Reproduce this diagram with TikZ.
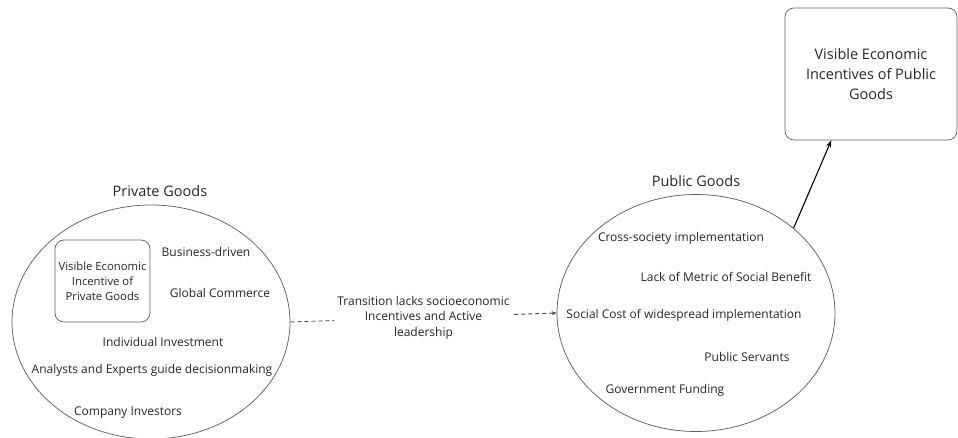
\documentclass[tikz,border=0pt]{standalone}
\usepackage{fontspec}
\setmainfont{Open Sans}
\usetikzlibrary{shapes.geometric,calc,arrows.meta}

\begin{document}
\begin{tikzpicture}[x=1pt,y=-1pt,
  outline/.style={draw=black!62, line width=0.75pt},
  txt/.style={font=\fontsize{12}{15.5}\selectfont, text=black!85, inner sep=0pt, align=center},
  title/.style={txt, font=\fontsize{14.5}{17}\selectfont},
  group/.style={outline, ellipse, inner sep=0pt},
  card/.style={outline, rounded corners=9pt, txt, inner sep=0pt},
  link/.style={draw=black!70, line width=0.9pt, dashed, dash pattern=on 4pt off 3pt, -{Stealth[length=5pt,width=4pt]}},
  leads/.style={draw=black, line width=1.1pt, -{Stealth[length=7pt,width=5pt]}}]
\useasboundingbox (0,0) rectangle (958,438);
\clip (0,0) rectangle (958,438);

% private goods cluster
\node[group, minimum width=278pt, minimum height=234pt] (priv) at (151,322) {};
\node[title] (privtitle) at (160,191) {Private Goods};
\node[card, minimum width=95pt, minimum height=82pt, font=\fontsize{11.3}{15}\selectfont] (privcard) at (102.5,281)
  {Visible Economic\\Incentive of\\Private Goods};
\node[txt] (business) at (206,252) {Business-driven};
\node[txt] (commerce) at (220,293) {Global Commerce};
\node[txt] (invest) at (163,342) {Individual Investment};
\node[txt] (analysts) at (152,370) {Analysts and Experts guide decisionmaking};
\node[txt] (company) at (128,413) {Company Investors};

% public goods cluster
\node[group, minimum width=278pt, minimum height=237pt] (pub) at (696,313) {};
\node[title] (pubtitle) at (696,181) {Public Goods};
\node[txt] (cross) at (681,238) {Cross-society implementation};
\node[txt] (metric) at (726,277) {Lack of Metric of Social Benefit};
\node[txt] (cost) at (684,315) {Social Cost of widespread implementation};
\node[txt] (servants) at (747,357) {Public Servants};
\node[txt] (funding) at (665,390) {Government Funding};

% incentives of public goods
\node[card, minimum width=172pt, minimum height=132pt, font=\fontsize{14.5}{20}\selectfont] (pubcard) at (871,74)
  {Visible Economic\\Incentives of Public\\Goods};

% connectors
\draw[link] (priv.east) -- node[txt, fill=white, inner sep=3pt] (trans) {Transition lacks socioeconomic\\Incentives and Active\\leadership} (pub.west);
\draw[leads] (pub.41) -- ($(pubcard.south west)!0.27!(pubcard.south east)$);
\end{tikzpicture}
\end{document}
